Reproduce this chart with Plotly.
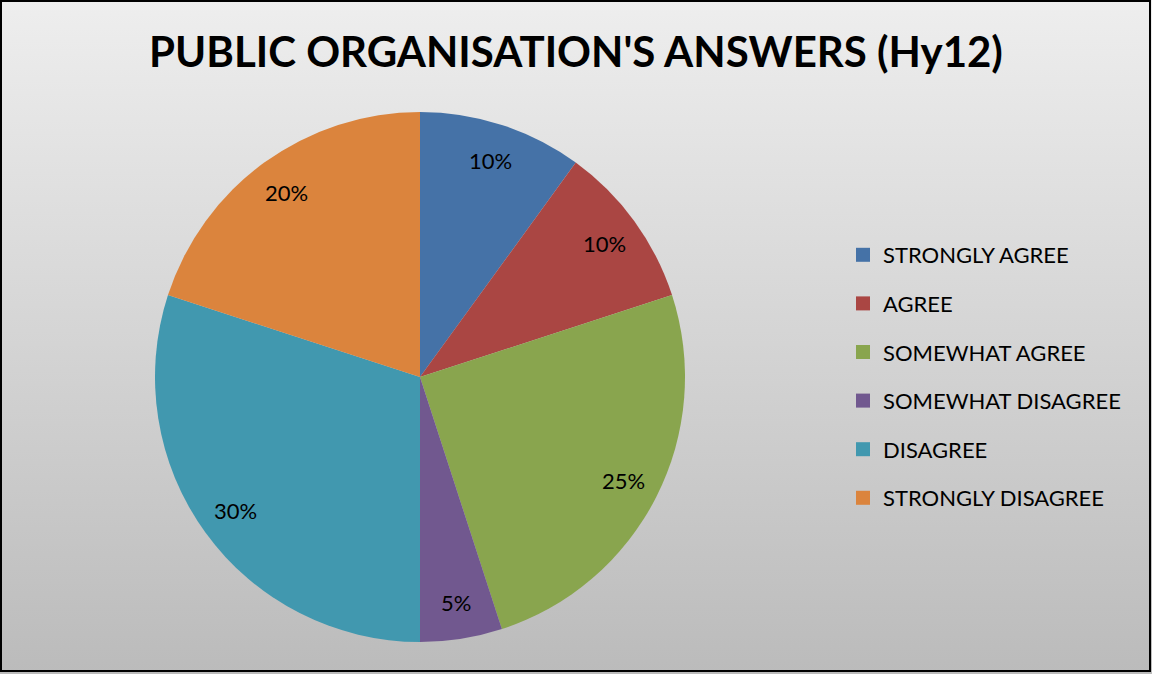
import base64
import math

import plotly.graph_objects as go

categorias = [
    "STRONGLY AGREE",
    "AGREE",
    "SOMEWHAT AGREE",
    "SOMEWHAT DISAGREE",
    "DISAGREE",
    "STRONGLY DISAGREE",
]
percentuais = [10, 10, 25, 5, 30, 20]
cores = ["#4572a7", "#aa4643", "#89a54e", "#71588f", "#4198af", "#db843d"]

W, H = 1152, 674
fonte = "Lato, Calibri, 'Open Sans', sans-serif"

# fundo em degradê (estilo Excel)
svg = (
    f'<svg xmlns="http://www.w3.org/2000/svg" width="{W}" height="{H}">'
    '<defs><linearGradient id="g" x1="0" y1="0" x2="0" y2="1">'
    '<stop offset="0" stop-color="#eeeeee"/><stop offset="1" stop-color="#bbbbbb"/>'
    "</linearGradient></defs>"
    f'<rect width="{W}" height="{H}" fill="url(#g)"/></svg>'
)
fundo = "data:image/svg+xml;base64," + base64.b64encode(svg.encode()).decode()

cx, cy, r = 420, 377, 265

fig = go.Figure()

fig.add_trace(
    go.Pie(
        labels=categorias,
        values=percentuais,
        marker=dict(colors=cores, line=dict(width=0)),
        sort=False,
        direction="clockwise",
        rotation=0,
        textinfo="none",
        showlegend=False,
        domain=dict(
            x=[(cx - r) / W, (cx + r) / W],
            y=[1 - (cy + r) / H, 1 - (cy - r) / H],
        ),
    )
)

# rótulos de porcentagem perto da borda, como no Excel
total = sum(percentuais)
acumulado = 0
rotulos = []
for v in percentuais:
    meio = (acumulado + v / 2) / total * 2 * math.pi
    acumulado += v
    px_ = cx + 0.86 * r * math.sin(meio)
    py_ = cy - 0.86 * r * math.cos(meio)
    rotulos.append(
        dict(
            x=px_ / W,
            y=1 - py_ / H,
            xref="paper",
            yref="paper",
            xanchor="center",
            yanchor="middle",
            text=f"{v / total:.0%}",
            showarrow=False,
            font=dict(family=fonte, size=22, color="black"),
        )
    )

# legenda com espaçamento maior
for nome, cor in zip(categorias, cores):
    fig.add_trace(
        go.Scatter(
            x=[None],
            y=[None],
            mode="markers",
            name=nome,
            legendgroup=nome,
            marker=dict(symbol="square", size=14, color=cor),
        )
    )

fig.update_layout(
    width=W,
    height=H,
    margin=dict(l=0, r=0, t=0, b=0),
    paper_bgcolor="#d5d5d5",
    plot_bgcolor="rgba(0,0,0,0)",
    xaxis=dict(visible=False),
    yaxis=dict(visible=False),
    title=dict(
        text="<b>PUBLIC ORGANISATION'S ANSWERS (Hy12)</b>",
        x=0.5,
        xanchor="center",
        xref="paper",
        yref="container",
        y=1 - 52 / H,
        yanchor="middle",
        font=dict(family=fonte, size=42, color="black"),
    ),
    legend=dict(
        x=843 / W,
        y=1 - 234 / H,
        xanchor="left",
        yanchor="top",
        bgcolor="rgba(0,0,0,0)",
        font=dict(family=fonte, size=22, color="black"),
        tracegroupgap=17,
        itemclick=False,
    ),
    annotations=rotulos,
    images=[
        dict(
            source=fundo,
            xref="paper",
            yref="paper",
            x=0,
            y=1,
            sizex=1,
            sizey=1,
            sizing="stretch",
            xanchor="left",
            yanchor="top",
            layer="below",
        )
    ],
    shapes=[
        dict(
            type="rect",
            xref="paper",
            yref="paper",
            x0=1 / W,
            x1=1150 / W,
            y0=1 - 671 / H,
            y1=1 - 1 / H,
            line=dict(color="black", width=2),
        )
    ],
)

fig.write_html(
    "out.html",
    config={"displayModeBar": False},
    post_script="document.body.style.margin='0';",
)
